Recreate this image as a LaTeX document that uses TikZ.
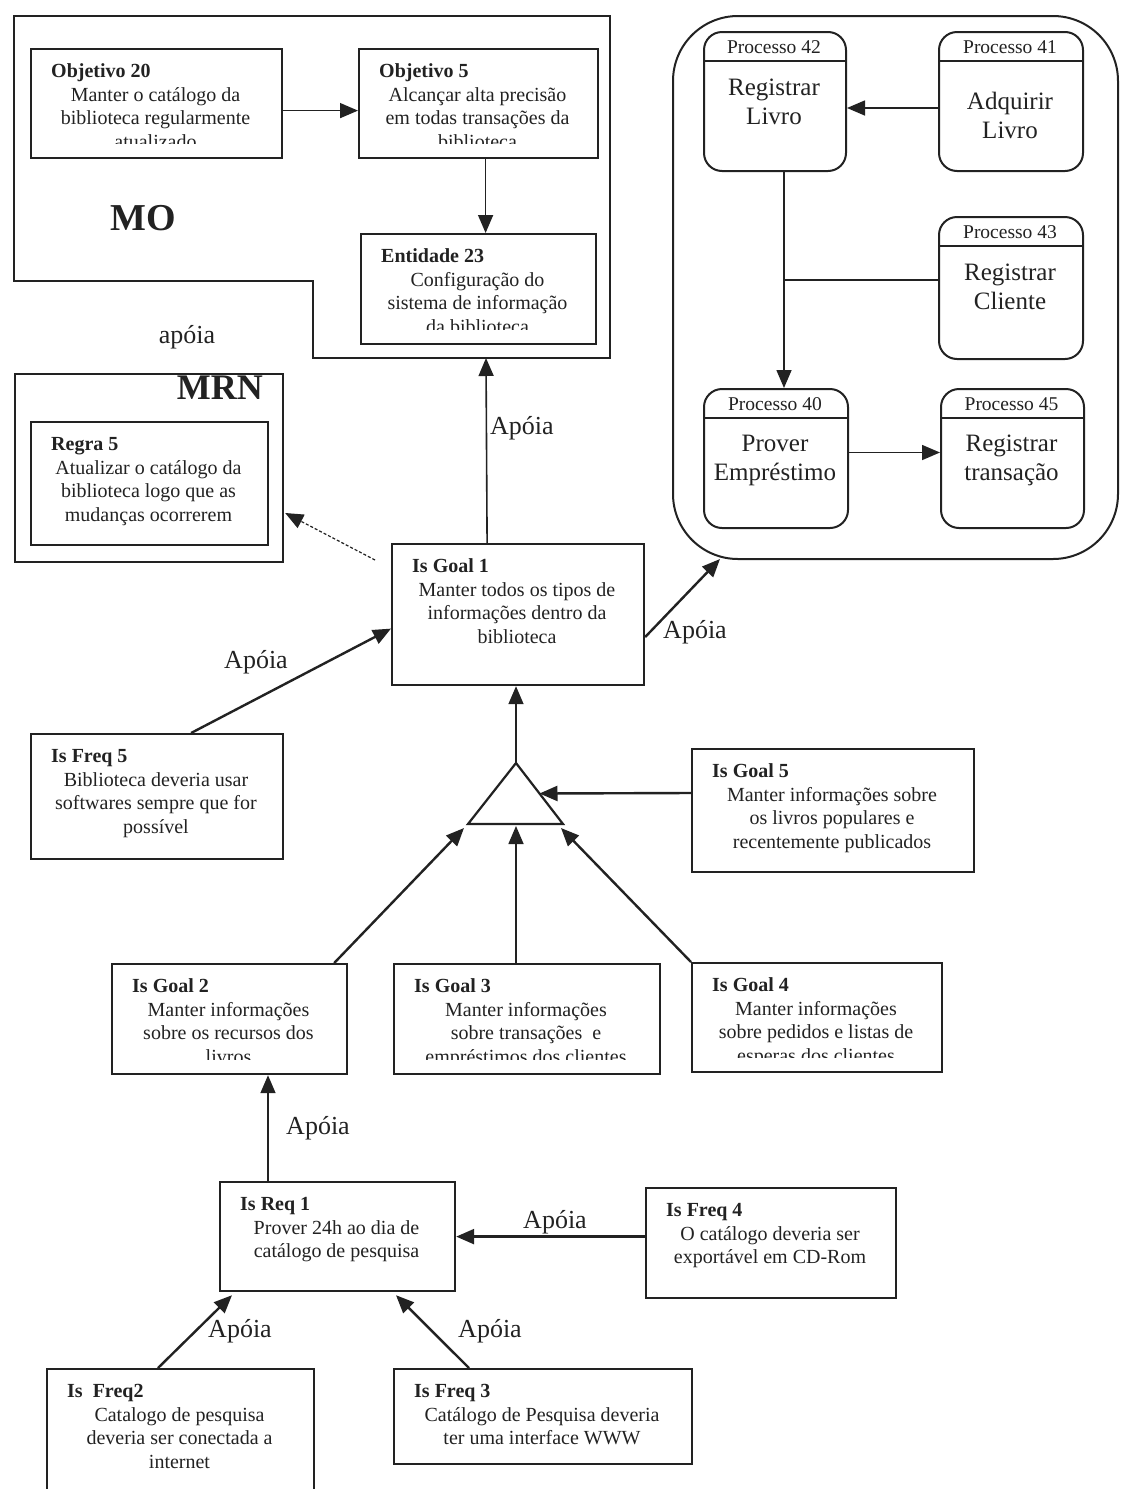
\documentclass[tikz,border=0pt]{standalone}
\usepackage{fontspec}
\setmainfont{Liberation Serif}
\usetikzlibrary{arrows.meta,calc}
\definecolor{ink}{HTML}{222222}

\tikzset{
  box/.style={draw=ink, line width=2.2pt, inner sep=0pt, anchor=north west},
  pbx/.style={draw=ink, line width=2pt, rounded corners=18pt, inner sep=0pt, anchor=north west},
  ttl/.style={inner sep=0pt, text=ink, font=\bfseries\fontsize{20}{23.5}\selectfont},
  bdy/.style={inner sep=0pt, text=ink, align=center, font=\fontsize{20}{23.5}\selectfont},
  phead/.style={inner sep=0pt, text=ink, font=\fontsize{19.5}{23}\selectfont},
  pbody/.style={inner sep=0pt, text=ink, align=center, font=\fontsize{25}{29}\selectfont},
  lbl/.style={inner sep=0pt, text=ink, font=\fontsize{26}{30}\selectfont},
  big/.style={inner sep=0pt, text=ink, font=\bfseries\fontsize{38}{40}\selectfont},
  tip/.style={-{Triangle[length=18pt,width=15pt]}},
  heavy/.style={tip, draw=ink, line width=2.4pt},
  light/.style={tip, draw=ink, line width=1.6pt},
  rule/.style={draw=ink, line width=1.6pt},
}

% goal/requirement box: name, x1, y1, x2, y2, bold title, centred body
% (text is cut off a little above the lower border)
\newcommand\gbox[7]{%
  \node[box, minimum width={(#4-#2)*1pt}, minimum height={(#5-#3)*1pt}] (#1) at (#2,#3) {};
  \begin{scope}
    \clip (#2,#3) rectangle (#4,#5-14);
    \node[ttl, anchor=base west] (#1t) at (#2+21,#3+29) {#6};
    \node[bdy, anchor=north] (#1b) at ({(#2+#4)/2},#3+36.5) {\strut #7};
  \end{scope}}

% process box: name, x1, y1, x2, y2, header, body, body top offset
\newcommand\pbox[8]{%
  \node[pbx, minimum width={(#4-#2)*1pt}, minimum height={(#5-#3)*1pt}] (#1) at (#2,#3) {};
  \draw[rule] (#2,#3+30) -- (#4,#3+30);
  \node[phead] (#1h) at ({(#2+#4)/2},#3+16) {#6};
  \node[pbody, anchor=north] (#1b) at ({(#2+#4)/2},#3+#8) {\strut #7};}

\begin{document}
\begin{tikzpicture}[x=1pt,y=-1pt]
\useasboundingbox (0,0) rectangle (1120,1489);
\clip (0,0) rectangle (1120,1489);
\fill[white] (0,0) rectangle (1120,1489);

% ---- MO region ----
\draw[draw=ink, line width=2.2pt] (14,16) -- (610,16) -- (610,358) -- (313,358) -- (313,281) -- (14,281) -- cycle;
\node[big] (mo) at (143,218) {MO};
\node[lbl] (apoia0) at (187,337) {apóia};
\coordinate (mobot) at (486,358);
\gbox{o20}{30}{48}{281}{157}{Objetivo 20}{Manter o catálogo da\\biblioteca regularmente\\atualizado}
\gbox{o5}{358}{48}{597}{157}{Objetivo 5}{Alcançar alta precisão\\em todas transações da\\biblioteca}
\gbox{e23}{360}{233}{595}{343}{Entidade 23}{Configuração do\\sistema de informação\\da biblioteca}

% ---- MRN region ----
\node[box, minimum width=268pt, minimum height=188pt] (mrn) at (14,373) {};
\node[inner sep=0pt, text=ink, font=\bfseries\fontsize{36}{40}\selectfont, anchor=base east] (mrnl) at (263,399) {MRN};
\gbox{r5}{30}{421}{267}{544}{Regra 5}{Atualizar o catálogo da\\biblioteca logo que as\\mudanças ocorrerem}

% ---- process region ----
\node[draw=ink, line width=2pt, rounded corners=65pt, minimum width=445pt, minimum height=543pt, anchor=north west, inner sep=0pt] (proc) at (672,15) {};
\pbox{p42}{703}{31}{845}{170}{Processo 42}{Registrar\\Livro}{43.7}
\pbox{p41}{938}{31}{1082}{170}{Processo 41}{Adquirir\\Livro}{57.7}
\pbox{p43}{938}{216}{1082}{358}{Processo 43}{Registrar\\Cliente}{43.7}
\pbox{p40}{703}{388}{847}{527}{Processo 40}{Prover\\Empréstimo}{42.7}
\pbox{p45}{940}{388}{1083}{527}{Processo 45}{Registrar\\transação}{42.7}

\draw[light] ($(p41.west)+(0,6.5)$) -- ($(p42.east)+(0,6.5)$);
\coordinate (vl) at ($(p42.south)+(9,0)$);
\draw[light] (vl) -- (vl |- p40.north);
\coordinate (p43w) at ($(p43.west)+(0,-8)$);
\draw[rule] (p43w) -- (vl |- p43w);
\draw[light] ($(p40.east)+(0,-6)$) -- ($(p45.west)+(0,-6)$);
\coordinate (procin) at ($(proc.south west)+(48,-1)$);

% ---- goals ----
\gbox{g1}{391}{543}{643}{684}{Is Goal 1}{Manter todos os tipos de\\informações dentro da\\biblioteca}
\gbox{f5}{30}{733}{282}{858}{Is Freq 5}{Biblioteca deveria usar\\softwares sempre que for\\possível}
\gbox{g5}{691}{748}{973}{871}{Is Goal 5}{Manter informações sobre\\os livros populares e\\recentemente publicados}
\gbox{g2}{111}{963}{346}{1073}{Is Goal 2}{Manter informações\\sobre os recursos dos\\livros}
\gbox{g3}{393}{963}{659}{1073}{Is Goal 3}{Manter informações\\sobre transações\ \ e\\empréstimos dos clientes}
\gbox{g4}{691}{962}{941}{1071}{Is Goal 4}{Manter informações\\sobre pedidos e listas de\\esperas dos clientes}
\gbox{r1}{219}{1181}{454}{1290}{Is Req 1}{Prover 24h ao dia de\\catálogo de pesquisa}
\gbox{f4}{645}{1187}{895}{1297}{Is Freq 4}{O catálogo deveria ser\\exportável em CD-Rom}
\gbox{f2}{46}{1368}{313}{1530}{Is\ \ Freq2}{Catalogo de pesquisa\\deveria ser conectada a\\internet}
\gbox{f3}{393}{1368}{691}{1463}{Is Freq 3}{Catálogo de Pesquisa deveria\\ter uma interface WWW}

% AND-decomposition triangle
\coordinate (tA) at (516,763);
\coordinate (tL) at (468,824);
\coordinate (tR) at (563,824);
\draw[draw=ink, line width=2.2pt, line join=miter] (tA) -- (tR) -- (tL) -- cycle;

% ---- connectors ----
\draw[light] ($(o20.east)+(0,7)$) -- ($(o5.west)+(0,7)$);
\draw[light] ($(o5.south)+(7,0)$) -- ($(e23.north)+(7,0)$);
\draw[light] ($(g1.north)+(-31,0)$) -- (mobot);
\draw[tip, draw=ink, line width=1.2pt, dash pattern=on 3pt off 2pt] ($(g1.north west)+(-16,17)$) -- ($(mrn.north east)+(1,140)$);
\draw[heavy] ($(g1.north east)+(0,94)$) -- (procin);
\draw[heavy] ($(f5.north)+(34,0)$) -- ($(g1.west)+(0,14)$);
\draw[light] (tA) -- (tA |- g1.south);
\draw[heavy] ($(g5.north west)+(0,45)$) -- ($(tA)!0.5!(tR)$);
\draw[heavy] ($(g2.north east)+(-14,0)$) -- ($(tL)+(-4,4)$);
\draw[light] (g3.north -| tA) -- ($(tA |- tL)+(0,2)$);
\draw[heavy] (g4.north west) -- ($(tR)+(-2,4)$);
\coordinate (r1top) at ($(r1.north west)+(49,0)$);
\draw[light] (r1top) -- (r1top |- g2.south);
\draw[heavy] (f4.west |- r1.east) -- (r1.east);
\draw[heavy] ($(f2.north west)+(112,0)$) -- ($(r1.south west)+(13,3)$);
\draw[heavy] ($(f3.north west)+(76,0)$) -- ($(r1.south west)+(177,3)$);

% ---- connector labels ----
\node[lbl, anchor=west] (l1) at (490,428) {Apóia};
\node[lbl] (l2) at (695,632) {Apóia};
\node[lbl] (l3) at (256,662) {Apóia};
\node[lbl] (l4) at (318,1128) {Apóia};
\node[lbl] (l5) at (555,1222) {Apóia};
\node[lbl] (l6) at (240,1331) {Apóia};
\node[lbl] (l7) at (490,1331) {Apóia};
\end{tikzpicture}
\end{document}
